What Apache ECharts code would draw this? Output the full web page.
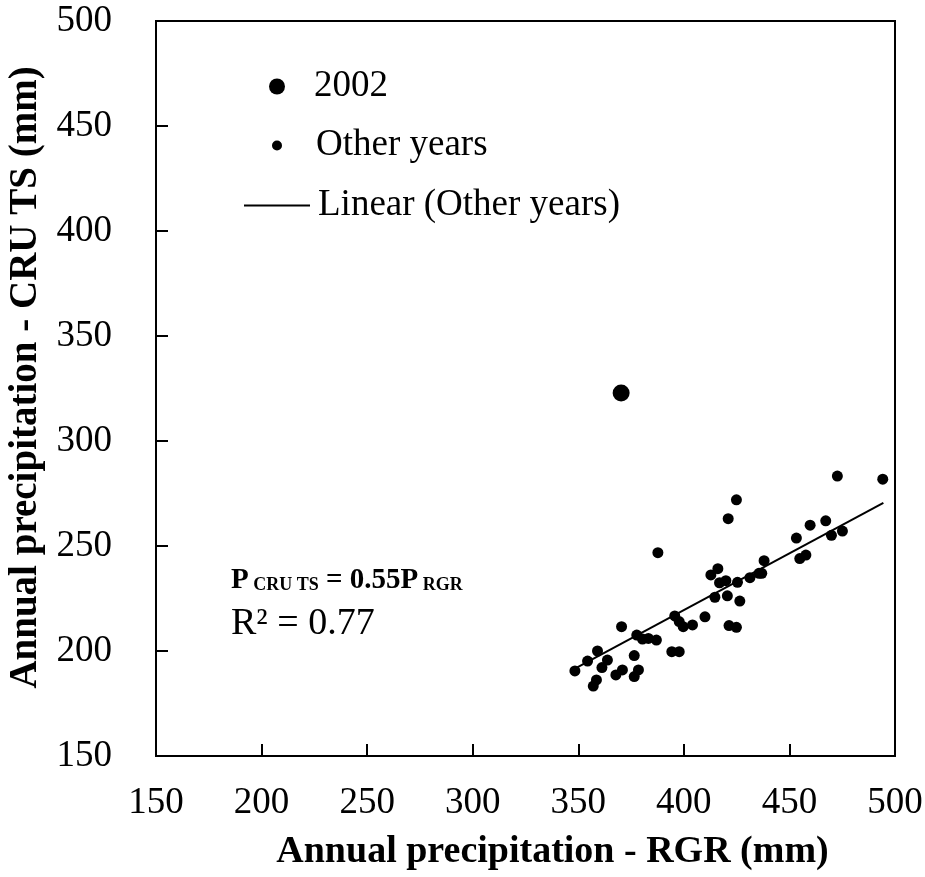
<!DOCTYPE html>
<html>
<head>
<meta charset="utf-8">
<script src="https://cdn.jsdelivr.net/npm/echarts@6/dist/echarts.min.js"></script>
<style>
  html, body { margin: 0; padding: 0; background: #fff; }
  #chart { width: 925px; height: 877px; }
</style>
</head>
<body>
<div id="chart"></div>
<script>
// 2002 point (RGR, CRU TS)
const year2002 = [[370.3, 322.9]]

// other years (RGR, CRU TS)
const otherYears = [
  [348.4, 190.5], [354.4, 195.2], [357.1, 183.3], [358.6, 186.2], [359.1, 200.0],
  [361.2, 192.1], [363.8, 195.7], [367.8, 188.6], [370.5, 211.6], [370.9, 191.0],
  [376.5, 197.8], [376.5, 187.8], [377.7, 207.6], [378.5, 191.0], [380.4, 205.7],
  [383.2, 206.0], [387.0, 205.2], [387.7, 246.8], [394.3, 199.7], [395.7, 216.7],
  [397.8, 199.7], [397.8, 214.0], [399.7, 211.6], [404.1, 212.4], [410.0, 216.3],
  [412.8, 236.2], [414.7, 225.6], [416.1, 239.2], [416.9, 232.5], [419.9, 233.5],
  [420.6, 226.3], [421.0, 263.0], [421.4, 212.1], [424.9, 272.0], [424.9, 211.3],
  [425.4, 232.7], [426.5, 223.8], [431.3, 234.9], [435.6, 237.0], [436.9, 237.0],
  [438.0, 243.0], [453.3, 253.8], [454.9, 244.0], [457.8, 245.7], [459.8, 259.9],
  [467.2, 262.0], [469.9, 255.1], [472.7, 283.3], [475.1, 257.1], [494.2, 281.8]
]

// trend line end points
const trendLine = [[348.4, 191.6], [494.5, 270.5]]

const axisTicks = [150, 200, 250, 300, 350, 400, 450, 500]

const font = 'Liberation Serif'
const fs = 37

const chart = echarts.init(document.getElementById('chart'))

chart.setOption({
  animation: false,
  textStyle: { fontFamily: font, color: '#000' },
  grid: {
    left: 156,
    right: 30,
    top: 21,
    bottom: 121,
    outerBoundsMode: 'none',
    containLabel: false,
    show: true,
    borderColor: '#000',
    borderWidth: 2
  },
  legend: [
    {
      data: ['2002'],
      left: 264,
      top: 63,
      icon: 'circle',
      itemWidth: 16,
      itemHeight: 16,
      textStyle: { fontFamily: font, fontSize: fs, color: '#000', padding: [0, 0, 0, 24] }
    },
    {
      data: ['Other years'],
      left: 267,
      top: 122,
      icon: 'circle',
      itemWidth: 10,
      itemHeight: 10,
      textStyle: { fontFamily: font, fontSize: fs, color: '#000', padding: [0, 0, 0, 29] }
    },
    {
      data: ['Linear (Other years)'],
      left: 239,
      top: 182,
      icon: 'rect',
      itemWidth: 66,
      itemHeight: 2,
      textStyle: { fontFamily: font, fontSize: fs, color: '#000', padding: [0, 0, 0, 3] }
    }
  ],
  xAxis: {
    type: 'value',
    min: axisTicks[0],
    max: axisTicks[axisTicks.length - 1],
    interval: 50,
    name: 'Annual precipitation - RGR (mm)',
    nameLocation: 'middle',
    nameGap: 77,
    nameTextStyle: { fontFamily: font, fontSize: 38, fontWeight: 'bold', color: '#000', padding: [0, 0, 0, 54] },
    axisLine: { lineStyle: { color: '#000', width: 2 } },
    axisTick: { inside: true, length: 12, lineStyle: { color: '#000', width: 2 } },
    axisLabel: { margin: 29, fontFamily: font, fontSize: fs, color: '#000' },
    splitLine: { show: false }
  },
  yAxis: {
    type: 'value',
    min: axisTicks[0],
    max: axisTicks[axisTicks.length - 1],
    interval: 50,
    name: 'Annual precipitation - CRU TS (mm)',
    nameLocation: 'middle',
    nameGap: 88,
    nameTextStyle: { fontFamily: font, fontSize: 39, fontWeight: 'bold', color: '#000', padding: [0, 0, 0, 22] },
    axisLine: { lineStyle: { color: '#000', width: 2 } },
    axisTick: { inside: true, length: 12, lineStyle: { color: '#000', width: 2 } },
    axisLabel: { margin: 44, fontFamily: font, fontSize: fs, color: '#000' },
    splitLine: { show: false }
  },
  graphic: [
    {
      type: 'text',
      left: 231,
      top: 566,
      style: {
        text: '{b|P}{s| CRU TS}{b| = 0.55P}{s| RGR}',
        rich: {
          b: { fontFamily: font, fontSize: 29, fontWeight: 'bold', fill: '#000', verticalAlign: 'bottom' },
          s: { fontFamily: font, fontSize: 18, fontWeight: 'bold', fill: '#000', verticalAlign: 'bottom', padding: [0, 0, 1, 0] }
        }
      }
    },
    {
      type: 'text',
      left: 231,
      top: 605,
      style: { text: 'R² = 0.77', fontFamily: font, fontSize: 38, fill: '#000' }
    }
  ],
  series: [
    {
      name: 'Other years',
      type: 'scatter',
      data: otherYears,
      symbolSize: 11,
      itemStyle: { color: '#000', opacity: 1 },
      z: 3
    },
    {
      name: '2002',
      type: 'scatter',
      data: year2002,
      symbolSize: 17,
      itemStyle: { color: '#000', opacity: 1 },
      z: 3
    },
    {
      name: 'Linear (Other years)',
      type: 'line',
      data: trendLine,
      symbol: 'none',
      lineStyle: { color: '#000', width: 2 },
      itemStyle: { color: '#000' },
      z: 2
    }
  ]
})
</script>
</body>
</html>
